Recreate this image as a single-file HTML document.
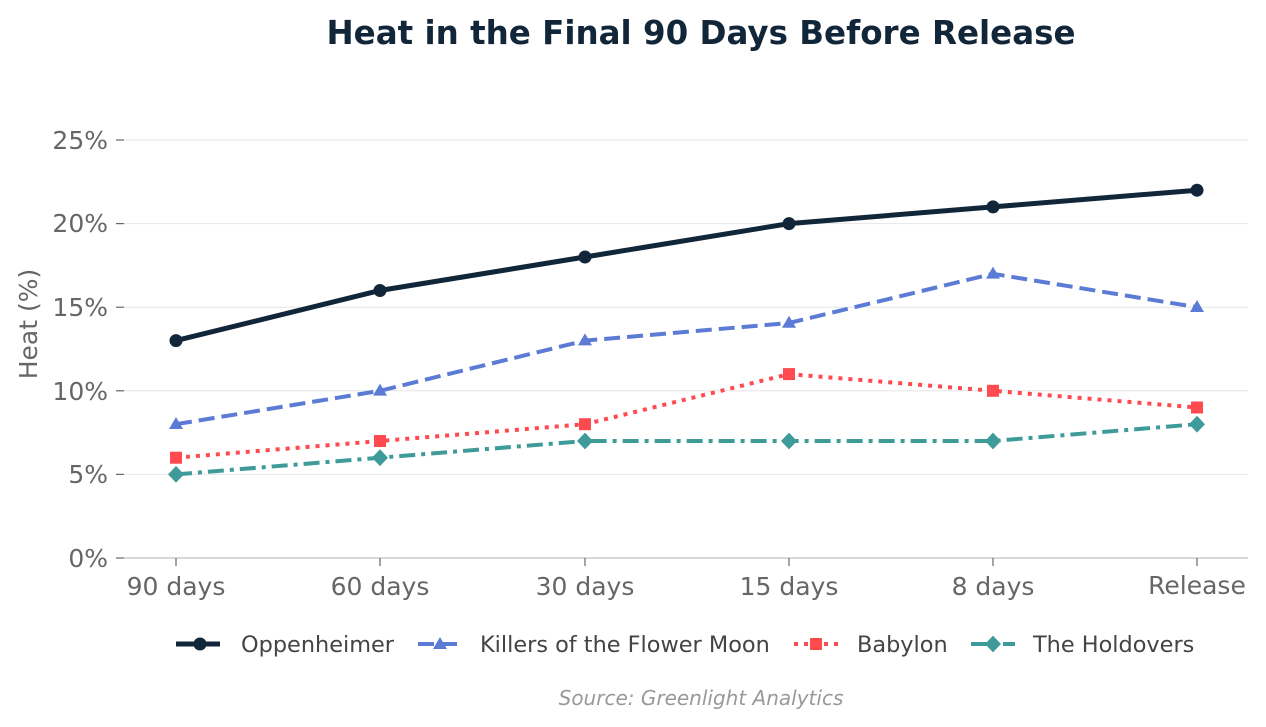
<!DOCTYPE html>
<html><head><style>body{margin:0;background:#fff}svg{display:block;font-family:"DejaVu Sans","Liberation Sans",sans-serif}</style></head><body>
<svg width="1266" height="727" viewBox="0 0 1266 727">
<text x="701" y="44" text-anchor="middle" font-size="32.5" font-weight="bold" fill="#12263a">Heat in the Final 90 Days Before Release</text>
<g stroke="#e6e6e6" stroke-width="1">
<line x1="124" x2="1248" y1="140" y2="140"/><line x1="124" x2="1248" y1="223.6" y2="223.6"/><line x1="124" x2="1248" y1="307.2" y2="307.2"/><line x1="124" x2="1248" y1="390.8" y2="390.8"/><line x1="124" x2="1248" y1="474.4" y2="474.4"/>
</g>
<line x1="124" x2="1248" y1="558" y2="558" stroke="#cccccc" stroke-width="1.5"/>
<g stroke="#666" stroke-width="1.2">
<line x1="116" x2="124" y1="140" y2="140"/><line x1="116" x2="124" y1="223.6" y2="223.6"/><line x1="116" x2="124" y1="307.2" y2="307.2"/><line x1="116" x2="124" y1="390.8" y2="390.8"/><line x1="116" x2="124" y1="474.4" y2="474.4"/><line x1="116" x2="124" y1="558" y2="558"/>
<line x1="176" x2="176" y1="558" y2="566"/><line x1="380" x2="380" y1="558" y2="566"/><line x1="585" x2="585" y1="558" y2="566"/><line x1="789" x2="789" y1="558" y2="566"/><line x1="993" x2="993" y1="558" y2="566"/><line x1="1197" x2="1197" y1="558" y2="566"/>
</g>
<g font-size="25" fill="#666" text-anchor="end">
<text x="108" y="149">25%</text><text x="108" y="232">20%</text><text x="108" y="316">15%</text><text x="108" y="400">10%</text><text x="108" y="483">5%</text><text x="108" y="567">0%</text>
</g>
<g font-size="25" fill="#666" text-anchor="middle">
<text x="176" y="595">90 days</text><text x="380" y="595">60 days</text><text x="585" y="595">30 days</text><text x="789" y="595">15 days</text><text x="993" y="595">8 days</text><text x="1197" y="594">Release</text>
</g>
<text transform="translate(37,324) rotate(-90)" font-size="25" fill="#666" text-anchor="middle">Heat (%)</text>

<polyline fill="none" stroke="#3f9a9a" stroke-width="4" stroke-dasharray="16,6,4,6" points="176,474.4 380,457.7 585,441 789,441 993,441 1197,424.2"/>
<g fill="#3f9a9a"><path d="M176,466 l8,8.4 l-8,8.4 l-8,-8.4z"/><path d="M380,449.3 l8,8.4 l-8,8.4 l-8,-8.4z"/><path d="M585,432.6 l8,8.4 l-8,8.4 l-8,-8.4z"/><path d="M789,432.6 l8,8.4 l-8,8.4 l-8,-8.4z"/><path d="M993,432.6 l8,8.4 l-8,8.4 l-8,-8.4z"/><path d="M1197,415.8 l8,8.4 l-8,8.4 l-8,-8.4z"/></g>

<polyline fill="none" stroke="#ff4a4f" stroke-width="4" stroke-dasharray="4,6" points="176,457.7 380,441 585,424.2 789,374.1 993,390.8 1197,407.5"/>
<g fill="#ff4a4f"><rect x="170" y="451.7" width="12" height="12"/><rect x="374" y="435" width="12" height="12"/><rect x="579" y="418.2" width="12" height="12"/><rect x="783" y="368.1" width="12" height="12"/><rect x="987" y="384.8" width="12" height="12"/><rect x="1191" y="401.5" width="12" height="12"/></g>

<polyline fill="none" stroke="#5b7bd5" stroke-width="4" stroke-dasharray="16,7" points="176,424.2 380,390.8 585,340.6 789,323 993,273.8 1197,307.2"/>
<g fill="#5b7bd5"><path d="M176,417 l7,12 h-14z"/><path d="M380,383.6 l7,12 h-14z"/><path d="M585,333.4 l7,12 h-14z"/><path d="M789,315.8 l7,12 h-14z"/><path d="M993,266.6 l7,12 h-14z"/><path d="M1197,300 l7,12 h-14z"/></g>

<polyline fill="none" stroke="#12263a" stroke-width="5" points="176,340.6 380,290.5 585,257 789,223.6 993,206.9 1197,190.2"/>
<g fill="#12263a"><circle cx="176" cy="340.6" r="6.5"/><circle cx="380" cy="290.5" r="6.5"/><circle cx="585" cy="257" r="6.5"/><circle cx="789" cy="223.6" r="6.5"/><circle cx="993" cy="206.9" r="6.5"/><circle cx="1197" cy="190.2" r="6.5"/></g>

<g font-size="22.4" fill="#444">
<line x1="176" x2="220" y1="644" y2="644" stroke="#12263a" stroke-width="5"/><circle cx="200" cy="644" r="6.5" fill="#12263a"/><text x="241" y="652">Oppenheimer</text>
<line x1="418" x2="462" y1="644" y2="644" stroke="#5b7bd5" stroke-width="4" stroke-dasharray="16,7"/><path d="M440,637 l7,12 h-14z" fill="#5b7bd5"/><text x="480" y="652">Killers of the Flower Moon</text>
<line x1="794" x2="838" y1="644" y2="644" stroke="#ff4a4f" stroke-width="4" stroke-dasharray="4,6"/><rect x="810" y="638" width="12" height="12" fill="#ff4a4f"/><text x="857" y="652">Babylon</text>
<line x1="971" x2="1015" y1="644" y2="644" stroke="#3f9a9a" stroke-width="4" stroke-dasharray="16,6,4,6"/><path d="M993,635.6 l8,8.4 l-8,8.4 l-8,-8.4z" fill="#3f9a9a"/><text x="1033" y="652">The Holdovers</text>
</g>
<text x="701" y="705" text-anchor="middle" font-size="20" font-style="italic" fill="#999">Source: Greenlight Analytics</text>
</svg>
</body></html>
